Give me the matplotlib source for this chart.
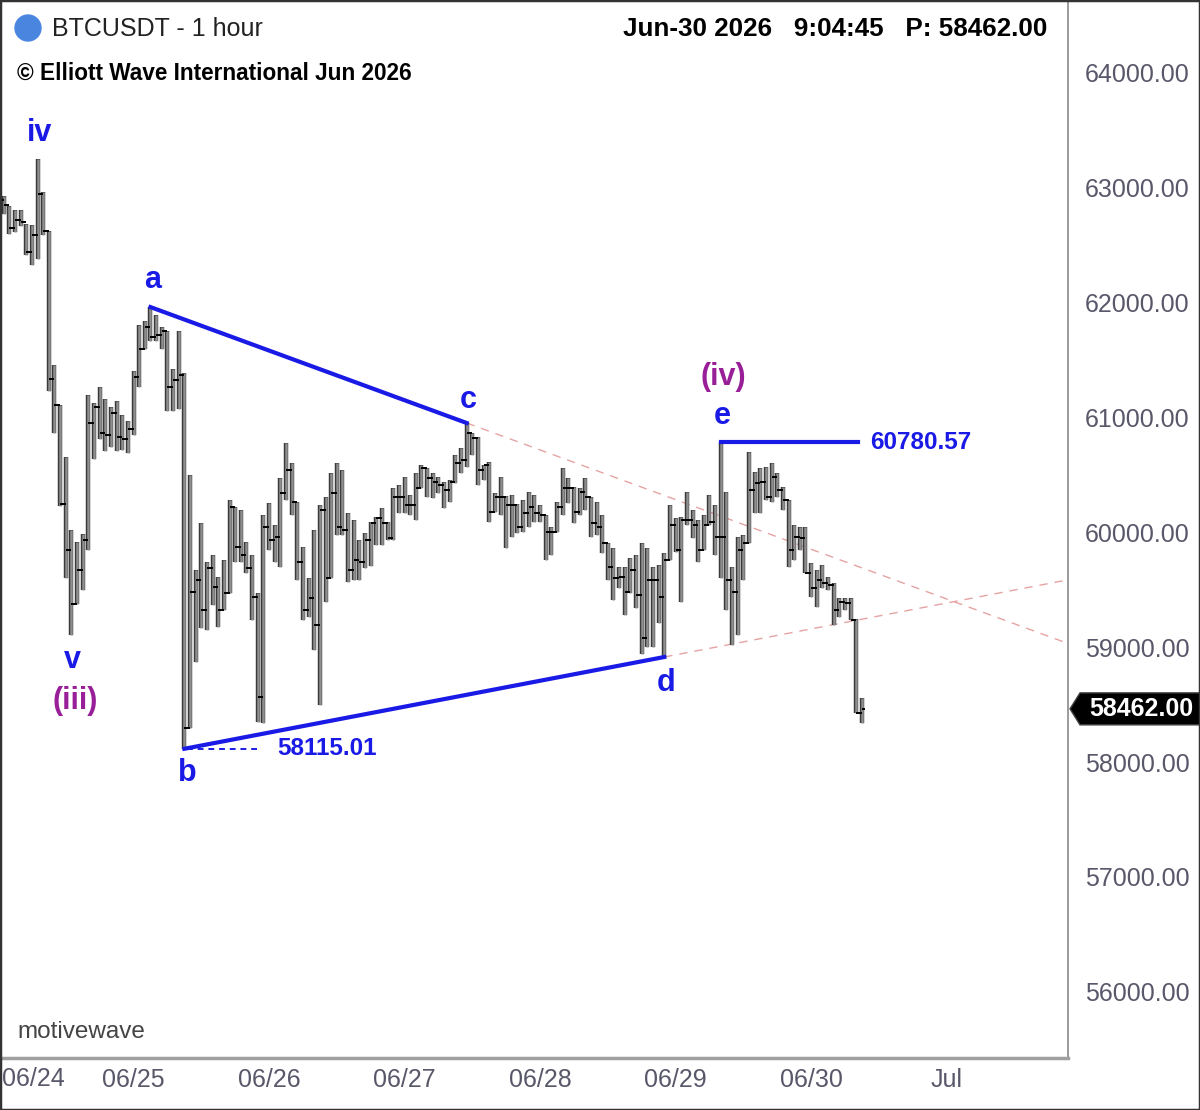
"""
BTCUSDT 1 hour bars with Elliott wave triangle count (a-b-c-d-e)
"""
import numpy as np
import matplotlib.pyplot as plt
from matplotlib.patches import Polygon, Rectangle, Ellipse

plt.rcParams['font.family'] = ['Liberation Sans', 'DejaVu Sans']
NARROW = ['Liberation Sans Narrow', 'Liberation Sans', 'DejaVu Sans']

# =====================================
# Data (hourly bars from 06/24 00:00, open = previous close)
# =====================================
highs = [
    63070, 62922, 62835, 62800, 62800, 62678, 62670, 63243, 62957, 62617,
    61452, 61104, 60652, 60017, 59913, 59983, 61191, 61122, 61261, 61157,
    61087, 61139, 61017, 60965, 61400, 61800, 61835, 61956, 61887, 61783,
    61748, 61417, 61748, 61383,
    60495, 59669, 60078, 59739, 59800, 59609, 59756, 60278, 60217, 60191,
    59913, 59800, 59470, 60148, 60252, 60061, 60469, 60774, 60600, 60261,
    59869, 59600, 60017, 60235, 60304, 60513, 60600, 60539, 60165, 60104,
    59930, 59991, 60087, 60130, 60209, 60087, 60383, 60409, 60478, 60322,
    60513, 60583, 60557, 60513, 60478, 60435, 60452, 60669, 60730, 60948,
    60861, 60826, 60583, 60609, 60339, 60478, 60310, 60322, 60240, 60278,
    60348, 60322, 60235, 60148, 60043, 60261, 60557, 60469, 60390, 60383,
    60469, 60304, 60261, 60148, 59904, 59861, 59696, 59696, 59774, 59800,
    59904, 59861, 59696, 59713, 59817,
    60235, 60122, 60130, 60348, 60191, 60104, 60148, 60322, 60235, 60780.57,
    60348, 59696, 59956, 59974, 60696, 60522, 60557, 60565, 60600, 60513,
    60391, 60278, 60061, 60043, 60043, 59730, 59669, 59713, 59609, 59556,
    59426, 59426, 59426, 59240, 58556,
]
lows = [
    62713, 62765, 62591, 62609, 62661, 62409, 62322, 62374, 62583, 61226,
    60861, 60226, 59600, 59104, 59374, 59496, 59843, 60635, 60809, 60704,
    60739, 60704, 60713, 60687, 60843, 61261, 61591, 61661, 61661, 61591,
    61052, 61052, 61070, 58115.01,
    58295, 58869, 59165, 59148, 59365, 59174, 59322, 59470, 59739, 59739,
    59643, 59235, 58348, 58339, 59843, 59739, 59696, 60278, 60148, 59583,
    59235, 59261, 58974, 58495, 59391, 59600, 59974, 59974, 59565, 59583,
    59583, 59687, 59704, 59887, 59887, 59930, 59930, 60165, 60165, 60148,
    60104, 60383, 60304, 60296, 60339, 60209, 60261, 60426, 60513, 60565,
    60669, 60409, 60452, 60087, 60174, 60148, 59861, 59956, 59991, 60000,
    60043, 60087, 60087, 59756, 59800, 60000, 60148, 60252, 60078, 60148,
    60191, 59956, 59974, 59817, 59583, 59408, 59513, 59278, 59470, 59339,
    58935, 59000, 59000, 59209, 58913,
    59756, 59826, 59391, 60061, 59948, 59739, 59843, 60061, 59800, 59600,
    59322, 59017, 59104, 59583, 59904, 60165, 60165, 60278, 60261, 60304,
    60191, 59696, 59756, 59843, 59643, 59435, 59347, 59513, 59496, 59191,
    59261, 59322, 59235, 58426, 58340,
]
closes = [
    62887, 62843, 62643, 62713, 62696, 62435, 62583, 62939, 62617, 61330,
    61104, 60243, 59843, 59374, 59669, 59930, 60948, 61087, 60861, 60843,
    61035, 60826, 60809, 60896, 61348, 61591, 61783, 61696, 61713, 61748,
    61261, 61322, 61365, 58295,
    59478, 59583, 59322, 59687, 59522, 59322, 59470, 60217, 59869, 59800,
    59687, 59435, 58565, 60043, 59930, 59956, 60339, 60539, 60261, 59739,
    59322, 59426, 59191, 60191, 59600, 60339, 60043, 60017, 59669, 59756,
    59739, 59930, 60078, 60122, 60078, 59948, 60304, 60304, 60235, 60235,
    60383, 60557, 60469, 60435, 60409, 60365, 60435, 60600, 60626, 60861,
    60817, 60539, 60583, 60174, 60304, 60304, 60235, 60235, 60043, 60165,
    60217, 60165, 60148, 60000, 60000, 60217, 60383, 60383, 60174, 60348,
    60304, 60078, 60043, 59904, 59696, 59600, 59609, 59478, 59669, 59452,
    59078, 59583, 59583, 59435, 59756,
    60061, 59843, 60104, 60104, 60061, 59843, 60061, 60087, 59956, 59956,
    59583, 59478, 59843, 59904, 60365, 60426, 60435, 60304, 60478, 60365,
    60278, 59843, 59956, 59948, 59643, 59513, 59583, 59556, 59539, 59322,
    59391, 59382, 59235, 58430, 58462,
]
first_open = 62950

day_labels = ['06/25', '06/26', '06/27', '06/28', '06/29', '06/30', 'Jul']
price_ticks = [56000, 57000, 58000, 59000, 60000, 61000, 62000, 63000, 64000]

# wave pivots (bar index)
iv_i, v_i, a_i, b_i, c_i, d_i, e_i = 7, 13, 27, 33, 83, 118, 128
last_price = 58462.00

BLUE = '#1a1ae6'
PURPLE = '#991f99'
PINK = '#e6a3a3'

# =====================================
# Figure
# =====================================
W, H = 1200, 1110
fig = plt.figure(figsize=(W / 100, H / 100), dpi=100)
ax = fig.add_axes([0, 52 / H, 1068 / W, 1056 / H])
x_max = 189.5
ax.set_xlim(0.35, x_max)
ax.set_ylim(55426, 64609)

hours = np.arange(len(closes))
opens = np.r_[first_open, closes[:-1]]

ax.vlines(hours, lows, highs, color='#3a3a3a', lw=3.2, zorder=2)
ax.vlines(hours, lows, highs, color='#8e8e8e', lw=1.8, zorder=3)
ax.hlines(opens, hours - 0.5, hours, color='black', lw=1.4, zorder=4)
ax.hlines(closes, hours, hours + 0.5, color='black', lw=1.4, zorder=4)

# triangle lines
ax.plot([a_i, c_i], [highs[a_i], highs[c_i]], color=BLUE, lw=3, zorder=5)
ax.plot([b_i, d_i], [lows[b_i], lows[d_i]], color=BLUE, lw=3, zorder=5)
s_up = (highs[c_i] - highs[a_i]) / (c_i - a_i)
s_lo = (lows[d_i] - lows[b_i]) / (d_i - b_i)
ax.plot([c_i, x_max], [highs[c_i], highs[c_i] + s_up * (x_max - c_i)],
        color=PINK, lw=1, dashes=(6, 5), zorder=1)
ax.plot([d_i, x_max], [lows[d_i], lows[d_i] + s_lo * (x_max - d_i)],
        color=PINK, lw=1, dashes=(6, 5), zorder=1)

# level lines
ax.plot([b_i + 0.5, 46.4], [lows[b_i], lows[b_i]], color=BLUE, lw=1.4, dashes=(3, 2.5), zorder=5)
ax.plot([e_i, 152.3], [highs[e_i], highs[e_i]], color=BLUE, lw=3, zorder=5)
ax.text(49.4, lows[b_i], f'{lows[b_i]:.2f}', color=BLUE, fontsize=17.5, weight='bold', va='center')
ax.text(154.4, highs[e_i], f'{highs[e_i]:.2f}', color=BLUE, fontsize=17.5, weight='bold', va='center')

# wave labels
lab = dict(fontsize=22, weight='bold', ha='center', va='center', zorder=6)
ax.text(7.4, 63470, 'iv', color=BLUE, **lab)
ax.text(13.1, 58887, 'v', color=BLUE, **lab)
ax.text(13.6, 58530, '(iii)', color=PURPLE, **lab)
ax.text(27.3, 62191, 'a', color=BLUE, **lab)
ax.text(33.5, 57904, 'b', color=BLUE, **lab)
ax.text(83.2, 61148, 'c', color=BLUE, **lab)
ax.text(118.3, 58687, 'd', color=BLUE, **lab)
ax.text(128.2, 61009, 'e', color=BLUE, **lab)
ax.text(128.4, 61348, '(iv)', color=PURPLE, **lab)

# axes
for s in ['left', 'top']:
    ax.spines[s].set_visible(False)
ax.spines['right'].set_color('#8a8a8a')
ax.spines['right'].set_linewidth(1.2)
ax.spines['bottom'].set_color('#a0a0a0')
ax.spines['bottom'].set_linewidth(2.5)

ax.yaxis.tick_right()
ax.set_yticks(price_ticks)
ax.set_yticklabels([f'{p:.2f}' for p in price_ticks])
ax.tick_params(axis='y', length=0, pad=12, labelsize=18, labelcolor='#58586a')
ax.set_xticks([24 * k for k in range(1, len(day_labels) + 1)])
ax.set_xticklabels(day_labels)
ax.tick_params(axis='x', length=0, pad=7, labelsize=18, labelcolor='#58586a')
for t in ax.get_xticklabels():
    t.set_fontfamily(NARROW)
fig.text(2 / W, 1 - 1079 / H, '06/24', ha='left', va='center',
         fontsize=18, color='#58586a', family=NARROW)

# last price tag
tr = ax.get_yaxis_transform()
h = 16 * 8.696
x0, x1, x2 = 1070 / 1068, 1080 / 1068, 1200 / 1068
ax.add_patch(Polygon([(x0, last_price), (x1, last_price + h), (x2, last_price + h),
                      (x2, last_price - h), (x1, last_price - h)],
                     closed=True, transform=tr, clip_on=False, fc='black', ec='#444', lw=1))
ax.text(1141 / 1068, last_price, f'{last_price:.2f}', transform=tr, color='white',
        fontsize=18, weight='bold', ha='center', va='center', clip_on=False)

# header
fig.add_artist(Ellipse((28 / W, 1 - 28 / H), 26 / W, 26 / H, transform=fig.transFigure,
                       color='#4a86e0'))
fig.text(52 / W, 1 - 29 / H, 'BTCUSDT - 1 hour', fontsize=18, color='#222222', va='center')
fig.text(17 / W, 1 - 73 / H, '\u00a9 Elliott Wave International Jun 2026',
         fontsize=16.3, weight='bold', va='center')
fig.text(1047 / W, 1 - 29 / H, 'Jun-30 2026   9:04:45   P: 58462.00',
         fontsize=18.7, weight='bold', ha='right', va='center')
fig.text(17 / W, 1 - 1032 / H, 'motivewave', fontsize=17.5, color='#444444',
         va='center', family=NARROW)

fig.add_artist(Rectangle((0, 0), 1, 1, transform=fig.transFigure, fill=False,
                         ec='#333333', lw=2.5))

fig.savefig('out.png', dpi=100, facecolor='white')
